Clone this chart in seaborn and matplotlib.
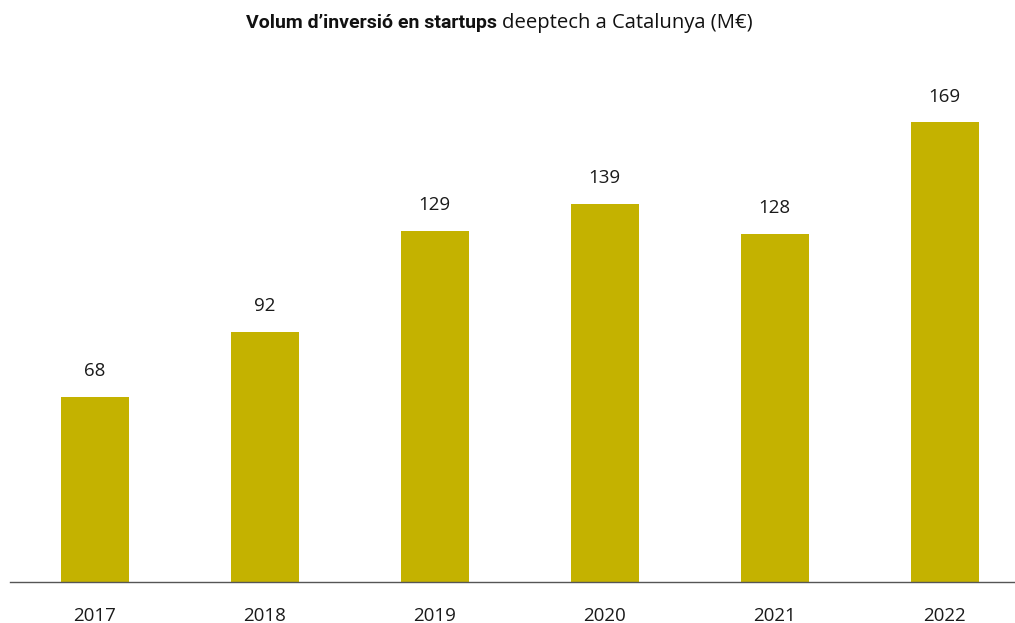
import seaborn as sns
import matplotlib.pyplot as plt
import pandas as pd

# inversió en startups deeptech a Catalunya (M€)
anys = ["2017", "2018", "2019", "2020", "2021", "2022"]
inversio = [68, 92, 129, 139, 128, 169]

df = pd.DataFrame({"any": anys, "inversio": inversio})

sns.set_theme(style="white")
plt.rcParams["font.family"] = ["Open Sans", "DejaVu Sans"]

fig = plt.figure(figsize=(10.15, 6.23), dpi=100)
# axes wider than the figure so the category spacing matches the original
ax = fig.add_axes([9.5 / 1015, 1 - 582 / 623, 1020 / 1015, 582 / 623])

sns.barplot(data=df, x="any", y="inversio", color="#C4B200", width=0.4,
            saturation=1, linewidth=0, ax=ax)

ax.set_ylim(0, 582 / 2.72)
ax.set_xlim(-0.5, 5.5)
ax.set_xlabel("")
ax.set_ylabel("")
ax.set_yticks([])
ax.tick_params(axis="x", length=0, pad=18, labelsize=13.5, colors="#1a1a1a")
for side in ["top", "right", "left"]:
    ax.spines[side].set_visible(False)
ax.spines["bottom"].set_color("#555555")
ax.spines["bottom"].set_linewidth(1.0)
ax.patch.set_alpha(0)

for i, v in enumerate(inversio):
    ax.annotate(str(v), (i, v), xytext=(0, 12), textcoords="offset points",
                ha="center", va="bottom", fontsize=13.5, color="#1a1a1a")

fig.text(497 / 1015, 1 - 23 / 623, "Volum d\u2019inversió en startups", ha="right",
         va="center", fontsize=14, fontweight="bold", color="#111111",
         family=["Roboto", "DejaVu Sans"])
fig.text(502 / 1015, 1 - 23 / 623, "deeptech a Catalunya (M€)", ha="left",
         va="center", fontsize=14.6, color="#111111")

fig.savefig("out.png", dpi=100)
